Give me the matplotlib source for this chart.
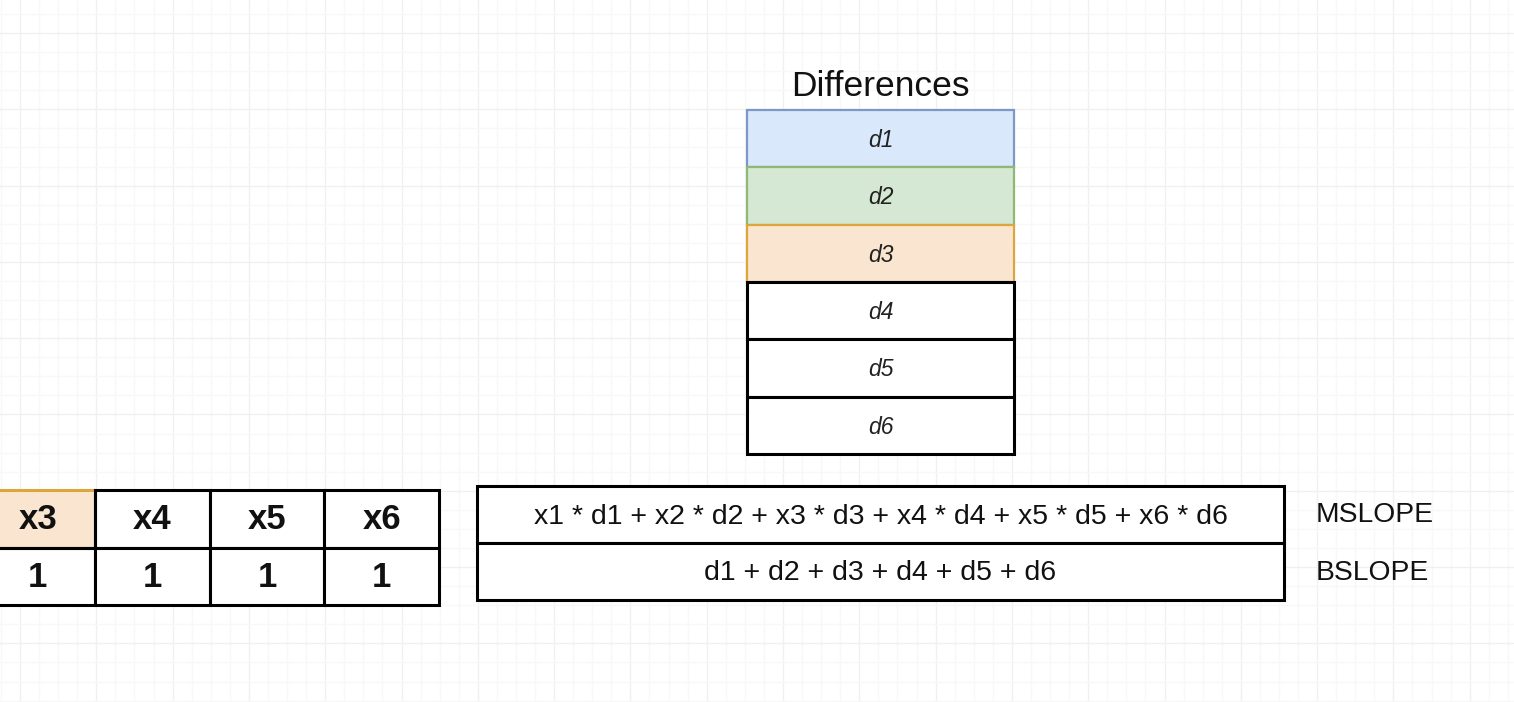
import matplotlib
matplotlib.use("Agg")
import matplotlib.pyplot as plt
from matplotlib.patches import Rectangle
import numpy as np

plt.rcParams['font.family'] = ['Liberation Sans', 'DejaVu Sans']

# ---- data ----
x_labels = ["x3", "x4", "x5", "x6"]
x_values = ["1", "1", "1", "1"]
diff_title = "Differences"
diff_labels = ["d1", "d2", "d3", "d4", "d5", "d6"]
diff_fills = ["#dae8fc", "#d5e8d4", "#fae6d0", "#ffffff", "#ffffff", "#ffffff"]
diff_edges = ["#7c98c4", "#8fb874", "#dca63c", "#000000", "#000000", "#000000"]
formulas = ["x1 * d1 + x2 * d2 + x3 * d3 + x4 * d4 + x5 * d5 + x6 * d6",
            "d1 + d2 + d3 + d4 + d5 + d6"]
slope_labels = ["MSLOPE", "BSLOPE"]

W, H = 1514, 702
fig = plt.figure(figsize=(W / 100, H / 100), dpi=100)
ax = fig.add_axes([0, 0, 1, 1])
ax.set_xlim(0, W)
ax.set_ylim(H, 0)
ax.axis("off")

# ---- background grid ----
major = 76.3
minor = major / 4
x0, y0 = 20.0, 33.0
for xv in np.arange(x0 - major, W + 1, minor):
    is_major = abs(((xv - x0) / major) - round((xv - x0) / major)) < 1e-6
    ax.axvline(xv, color="#f0f0f0" if is_major else "#f8f8f8", lw=1.0, zorder=0)
for yv in np.arange(y0 - major, H + 1, minor):
    is_major = abs(((yv - y0) / major) - round((yv - y0) / major)) < 1e-6
    ax.axhline(yv, color="#f0f0f0" if is_major else "#f8f8f8", lw=1.0, zorder=0)

# ---- differences stack ----
sx, sw = 747, 267
sy, sh = 110, 57.3
ax.text(sx + sw / 2, sy - 24, diff_title, ha="center", va="center",
        fontsize=25.5, color="#111111", zorder=5)
for i, (lab, fc, ec) in enumerate(zip(diff_labels, diff_fills, diff_edges)):
    y = sy + i * sh
    lw = 1.6 if ec != "#000000" else 2.2
    ax.add_patch(Rectangle((sx, y), sw, sh, facecolor=fc, edgecolor=ec,
                           lw=lw, zorder=3 if ec != "#000000" else 4))
    ax.text(sx + sw / 2, y + sh / 2 + 2, lab, ha="center", va="center",
            fontsize=16.5, style="italic", color="#222222", zorder=5)

# ---- left x table ----
tx, tw = -19.5, 114.6
ty, th = 490, 57.5
for i, (lab, val) in enumerate(zip(x_labels, x_values)):
    x = tx + i * tw
    fc = "#fae6d0" if i == 0 else "#ffffff"
    ax.add_patch(Rectangle((x, ty), tw, th, facecolor=fc,
                           edgecolor="#dca63c" if i == 0 else "#000000",
                           lw=2.2, zorder=3))
    ax.add_patch(Rectangle((x, ty + th), tw, th, facecolor="#ffffff",
                           edgecolor="#000000", lw=2.2, zorder=4))
    ax.text(x + tw / 2, ty + th / 2 + 1, lab, ha="center", va="center",
            fontsize=25, fontweight="bold", color="#111111", zorder=5)
    ax.text(x + tw / 2, ty + th * 1.5 + 1, val, ha="center", va="center",
            fontsize=25, fontweight="bold", color="#111111", zorder=5)
ax.plot([tx + tw, tx + tw], [ty, ty + th], color="#000000", lw=2.2, zorder=4)
ax.plot([tx, tx + tw], [ty + th, ty + th], color="#000000", lw=2.2, zorder=4)

# ---- formula box ----
fx, fw = 477, 807
fy, fh = 486, 57
for i, (ftxt, slab) in enumerate(zip(formulas, slope_labels)):
    y = fy + i * fh
    ax.add_patch(Rectangle((fx, y), fw, fh, facecolor="#ffffff",
                           edgecolor="#000000", lw=2.2, zorder=3))
    ax.text(fx + fw / 2, y + fh / 2 + 2, ftxt, ha="center", va="center",
            fontsize=20.5, color="#111111", zorder=5)
    ax.text(1316, y + fh / 2 + 1, slab, ha="left", va="center",
            fontsize=20.3, color="#111111", zorder=5)

fig.savefig("out.png", dpi=100)
